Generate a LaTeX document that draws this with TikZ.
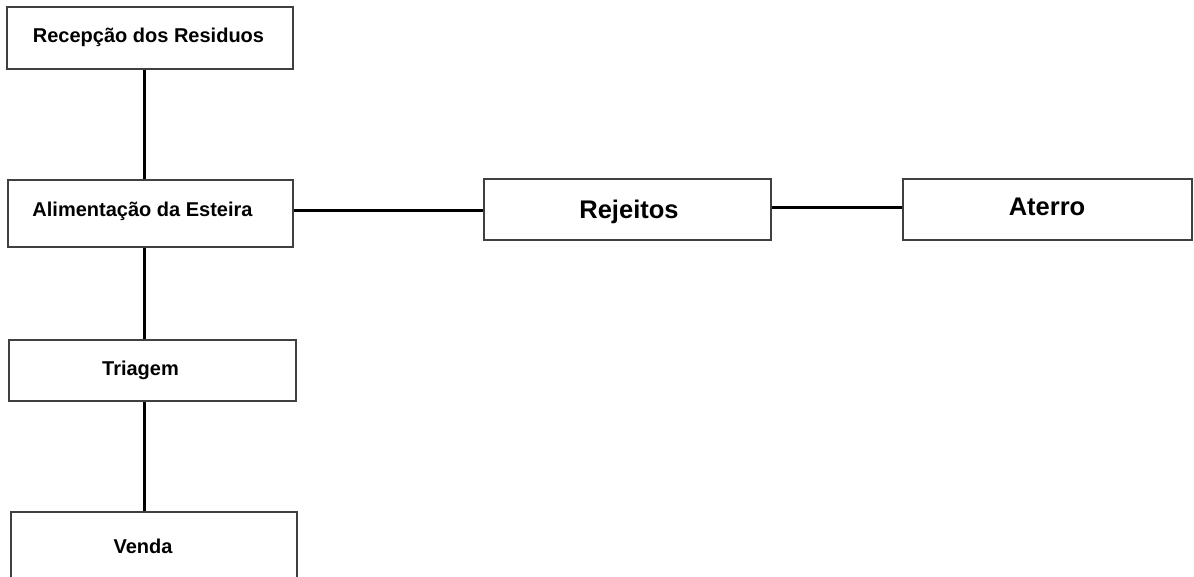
\documentclass[tikz,border=0pt]{standalone}
\usepackage{fontspec}
\setmainfont{Liberation Sans}
\begin{document}
\begin{tikzpicture}[x=1pt,y=-1pt,
  boxnode/.style={draw=black!75,line width=2pt,fill=white,inner sep=0pt,rectangle},
  smalltxt/.style={font=\bfseries\fontsize{20}{24}\selectfont,inner sep=0pt,anchor=base},
  bigtxt/.style={font=\bfseries\fontsize{25.5}{30}\selectfont,inner sep=0pt,anchor=base},
  conn/.style={line width=3pt,black}]
\useasboundingbox (0,0) rectangle (1194,577);
\clip (0,0) rectangle (1194,577);
\fill[white] (0,0) rectangle (1194,577);
% boxes
\node[boxnode,minimum width=286pt,minimum height=62pt] (b1) at (150,38) {};
\node[boxnode,minimum width=285pt,minimum height=67pt] (b2) at (150.5,213.5) {};
\node[boxnode,minimum width=287pt,minimum height=61pt] (b3) at (152.5,370.5) {};
\node[boxnode,minimum width=286pt,minimum height=70pt] (b4) at (154,547) {};
\node[boxnode,minimum width=287pt,minimum height=61pt] (rej) at (627.5,209.5) {};
\node[boxnode,minimum width=289pt,minimum height=61pt] (ate) at (1047.5,209.5) {};
% labels
\node[smalltxt] (t1) at (148.5,43) {Recepção dos Residuos};
\node[smalltxt] (t2) at (142.5,217) {Alimentação da Esteira};
\node[smalltxt] (t3) at (140.5,375) {Triagem};
\node[smalltxt] (t4) at (143,553) {Venda};
\node[bigtxt] (t5) at (629,219) {Rejeitos};
\node[bigtxt] (t6) at (1047,216) {Aterro};
% connectors
\coordinate (vx) at (144,0);
\coordinate (hy1) at (0,211);
\coordinate (hy2) at (0,208);
\draw[conn] (b1.south -| vx) -- (b2.north -| vx);
\draw[conn] (b2.south -| vx) -- (b3.north -| vx);
\draw[conn] (b3.south -| vx) -- (b4.north -| vx);
\draw[conn] (b2.east |- hy1) -- (rej.west |- hy1);
\draw[conn] (rej.east |- hy2) -- (ate.west |- hy2);
\end{tikzpicture}
\end{document}
